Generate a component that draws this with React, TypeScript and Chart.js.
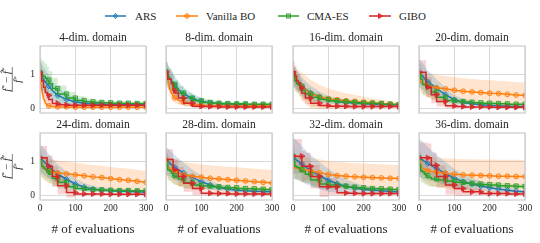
import React, { useEffect, useRef } from 'react';
import { Chart, registerables } from 'chart.js';
Chart.register(...registerables);

// ---------- data ----------
const X = [0, 5, 10, 15, 20, 25, 35, 50, 75, 100, 125, 150, 175, 200, 225, 250, 275, 300];
const X_TICKS = [0, 100, 200, 300];
const Y_TICKS = [0, 1];
const TITLES = ['4-dim. domain', '8-dim. domain', '16-dim. domain', '20-dim. domain', '24-dim. domain', '28-dim. domain', '32-dim. domain', '36-dim. domain'];
const METHODS = ['ARS', 'Vanilla BO', 'CMA-ES', 'GIBO'];

const ARS_4 = [1.00, 0.92, 0.85, 0.78, 0.71, 0.65, 0.52, 0.38, 0.26, 0.19, 0.15, 0.13, 0.12, 0.11, 0.10, 0.10, 0.10, 0.10];
const ARS_4_SD = [0.38, 0.37, 0.36, 0.35, 0.34, 0.32, 0.28, 0.23, 0.16, 0.12, 0.10, 0.08, 0.07, 0.06, 0.06, 0.05, 0.05, 0.05];
const BO_4 = [1.00, 0.55, 0.30, 0.17, 0.10, 0.07, 0.05, 0.04, 0.04, 0.03, 0.03, 0.03, 0.03, 0.03, 0.03, 0.03, 0.03, 0.03];
const BO_4_SD = [0.30, 0.25, 0.16, 0.10, 0.07, 0.05, 0.04, 0.03, 0.03, 0.03, 0.03, 0.03, 0.03, 0.03, 0.03, 0.03, 0.03, 0.03];
const CMA_4 = [1.05, 1.00, 0.97, 0.93, 0.88, 0.83, 0.72, 0.58, 0.42, 0.30, 0.23, 0.19, 0.17, 0.16, 0.15, 0.15, 0.14, 0.14];
const CMA_4_SD = [0.45, 0.45, 0.44, 0.43, 0.42, 0.40, 0.37, 0.32, 0.25, 0.18, 0.12, 0.09, 0.08, 0.07, 0.06, 0.06, 0.05, 0.05];
const GIBO_4 = [1.05, 1.05, 0.80, 0.62, 0.46, 0.38, 0.26, 0.14, 0.10, 0.09, 0.09, 0.09, 0.09, 0.09, 0.09, 0.09, 0.09, 0.09];
const GIBO_4_SD = [0.30, 0.30, 0.30, 0.28, 0.25, 0.22, 0.18, 0.10, 0.06, 0.05, 0.05, 0.05, 0.05, 0.05, 0.05, 0.05, 0.05, 0.05];

const ARS_8 = [1.05, 0.98, 0.90, 0.82, 0.75, 0.68, 0.55, 0.42, 0.28, 0.20, 0.16, 0.13, 0.12, 0.11, 0.11, 0.10, 0.10, 0.10];
const ARS_8_SD = [0.30, 0.30, 0.29, 0.28, 0.27, 0.26, 0.23, 0.20, 0.15, 0.10, 0.08, 0.06, 0.05, 0.05, 0.04, 0.04, 0.04, 0.04];
const BO_8 = [1.05, 0.85, 0.60, 0.45, 0.37, 0.31, 0.24, 0.18, 0.12, 0.09, 0.08, 0.08, 0.08, 0.07, 0.07, 0.07, 0.07, 0.07];
const BO_8_SD = [0.25, 0.25, 0.22, 0.20, 0.18, 0.15, 0.12, 0.10, 0.07, 0.05, 0.04, 0.04, 0.04, 0.04, 0.04, 0.04, 0.04, 0.04];
const CMA_8 = [1.07, 1.00, 0.92, 0.85, 0.78, 0.70, 0.58, 0.45, 0.30, 0.22, 0.17, 0.15, 0.14, 0.13, 0.13, 0.12, 0.12, 0.12];
const CMA_8_SD = [0.35, 0.35, 0.33, 0.32, 0.30, 0.28, 0.25, 0.20, 0.15, 0.10, 0.08, 0.06, 0.05, 0.05, 0.05, 0.04, 0.04, 0.04];
const GIBO_8 = [1.07, 1.07, 0.85, 0.85, 0.72, 0.52, 0.45, 0.30, 0.15, 0.06, 0.05, 0.05, 0.04, 0.04, 0.04, 0.04, 0.04, 0.04];
const GIBO_8_SD = [0.30, 0.30, 0.30, 0.30, 0.28, 0.25, 0.22, 0.18, 0.10, 0.05, 0.04, 0.04, 0.04, 0.04, 0.04, 0.04, 0.04, 0.04];

const ARS_16 = [1.00, 0.92, 0.85, 0.78, 0.72, 0.66, 0.56, 0.45, 0.33, 0.25, 0.20, 0.17, 0.15, 0.13, 0.12, 0.11, 0.10, 0.10];
const ARS_16_SD = [0.30, 0.30, 0.29, 0.28, 0.27, 0.26, 0.24, 0.21, 0.16, 0.12, 0.10, 0.08, 0.07, 0.06, 0.05, 0.05, 0.05, 0.05];
const BO_16 = [0.95, 0.88, 0.82, 0.76, 0.70, 0.64, 0.55, 0.42, 0.33, 0.28, 0.25, 0.22, 0.20, 0.18, 0.16, 0.14, 0.12, 0.11];
const BO_16_SD = [0.30, 0.32, 0.34, 0.36, 0.38, 0.40, 0.42, 0.42, 0.36, 0.30, 0.26, 0.22, 0.19, 0.16, 0.13, 0.11, 0.09, 0.08];
const CMA_16 = [1.00, 0.90, 0.80, 0.72, 0.68, 0.62, 0.52, 0.42, 0.32, 0.26, 0.22, 0.20, 0.18, 0.16, 0.15, 0.14, 0.12, 0.11];
const CMA_16_SD = [0.30, 0.30, 0.28, 0.26, 0.25, 0.24, 0.22, 0.18, 0.14, 0.10, 0.08, 0.07, 0.06, 0.05, 0.05, 0.05, 0.04, 0.04];
const GIBO_16 = [1.07, 1.07, 0.95, 0.80, 0.75, 0.60, 0.45, 0.30, 0.15, 0.08, 0.06, 0.06, 0.05, 0.05, 0.05, 0.05, 0.05, 0.05];
const GIBO_16_SD = [0.30, 0.30, 0.30, 0.28, 0.26, 0.24, 0.22, 0.18, 0.10, 0.06, 0.04, 0.04, 0.04, 0.04, 0.04, 0.04, 0.04, 0.04];

const ARS_20 = [1.05, 1.00, 0.95, 0.88, 0.82, 0.77, 0.70, 0.58, 0.40, 0.25, 0.17, 0.13, 0.10, 0.08, 0.07, 0.06, 0.05, 0.05];
const ARS_20_SD = [0.40, 0.40, 0.39, 0.38, 0.37, 0.35, 0.32, 0.27, 0.20, 0.14, 0.10, 0.07, 0.06, 0.05, 0.04, 0.04, 0.04, 0.04];
const BO_20 = [0.95, 0.78, 0.74, 0.71, 0.69, 0.67, 0.64, 0.60, 0.57, 0.53, 0.50, 0.48, 0.46, 0.44, 0.43, 0.41, 0.39, 0.38];
const BO_20_SD = [0.30, 0.30, 0.32, 0.33, 0.34, 0.35, 0.37, 0.38, 0.38, 0.38, 0.38, 0.38, 0.38, 0.38, 0.38, 0.38, 0.38, 0.38];
const CMA_20 = [1.00, 0.95, 0.85, 0.70, 0.68, 0.65, 0.60, 0.48, 0.32, 0.23, 0.20, 0.18, 0.16, 0.15, 0.14, 0.13, 0.12, 0.12];
const CMA_20_SD = [0.35, 0.35, 0.33, 0.30, 0.29, 0.28, 0.26, 0.22, 0.16, 0.11, 0.08, 0.07, 0.06, 0.05, 0.05, 0.05, 0.04, 0.04];
const GIBO_20 = [1.06, 1.06, 1.06, 1.06, 1.06, 0.62, 0.62, 0.40, 0.20, 0.07, 0.05, 0.04, 0.04, 0.04, 0.03, 0.03, 0.03, 0.03];
const GIBO_20_SD = [0.35, 0.35, 0.35, 0.35, 0.35, 0.30, 0.30, 0.25, 0.15, 0.06, 0.04, 0.03, 0.03, 0.03, 0.03, 0.03, 0.03, 0.03];

const ARS_24 = [1.08, 1.05, 1.00, 0.95, 0.90, 0.85, 0.75, 0.63, 0.47, 0.33, 0.24, 0.18, 0.15, 0.13, 0.12, 0.11, 0.10, 0.09];
const ARS_24_SD = [0.40, 0.40, 0.39, 0.38, 0.37, 0.36, 0.33, 0.28, 0.22, 0.16, 0.12, 0.09, 0.07, 0.06, 0.05, 0.05, 0.05, 0.05];
const BO_24 = [0.95, 0.85, 0.80, 0.76, 0.73, 0.71, 0.68, 0.66, 0.63, 0.60, 0.57, 0.54, 0.52, 0.49, 0.46, 0.44, 0.41, 0.38];
const BO_24_SD = [0.30, 0.32, 0.33, 0.34, 0.35, 0.35, 0.36, 0.36, 0.36, 0.36, 0.35, 0.35, 0.35, 0.34, 0.34, 0.34, 0.34, 0.33];
const CMA_24 = [1.05, 0.95, 0.85, 0.80, 0.75, 0.72, 0.62, 0.50, 0.38, 0.25, 0.20, 0.17, 0.16, 0.15, 0.14, 0.14, 0.13, 0.13];
const CMA_24_SD = [0.35, 0.35, 0.33, 0.31, 0.30, 0.29, 0.27, 0.23, 0.18, 0.12, 0.09, 0.07, 0.06, 0.05, 0.05, 0.05, 0.04, 0.04];
const GIBO_24 = [1.10, 1.10, 1.10, 1.10, 1.10, 0.85, 0.85, 0.55, 0.28, 0.08, 0.04, 0.04, 0.04, 0.03, 0.03, 0.03, 0.03, 0.03];
const GIBO_24_SD = [0.35, 0.35, 0.35, 0.35, 0.35, 0.32, 0.32, 0.30, 0.25, 0.15, 0.05, 0.04, 0.03, 0.03, 0.03, 0.03, 0.03, 0.03];

const ARS_28 = [1.00, 0.98, 0.95, 0.90, 0.86, 0.82, 0.75, 0.66, 0.52, 0.40, 0.30, 0.23, 0.18, 0.15, 0.13, 0.12, 0.11, 0.10];
const ARS_28_SD = [0.40, 0.40, 0.39, 0.38, 0.37, 0.36, 0.34, 0.30, 0.24, 0.18, 0.14, 0.10, 0.08, 0.07, 0.06, 0.05, 0.05, 0.05];
const BO_28 = [0.95, 0.85, 0.80, 0.76, 0.72, 0.70, 0.65, 0.60, 0.56, 0.53, 0.50, 0.48, 0.46, 0.44, 0.42, 0.40, 0.38, 0.36];
const BO_28_SD = [0.30, 0.32, 0.34, 0.35, 0.36, 0.37, 0.38, 0.38, 0.38, 0.38, 0.38, 0.38, 0.38, 0.38, 0.38, 0.38, 0.38, 0.38];
const CMA_28 = [0.97, 0.90, 0.75, 0.72, 0.65, 0.58, 0.55, 0.48, 0.37, 0.30, 0.27, 0.25, 0.23, 0.22, 0.20, 0.19, 0.18, 0.17];
const CMA_28_SD = [0.35, 0.35, 0.32, 0.30, 0.28, 0.26, 0.25, 0.22, 0.17, 0.12, 0.10, 0.08, 0.07, 0.06, 0.06, 0.05, 0.05, 0.05];
const GIBO_28 = [1.05, 1.05, 1.05, 1.05, 1.05, 0.75, 0.75, 0.55, 0.35, 0.20, 0.06, 0.05, 0.05, 0.04, 0.04, 0.04, 0.04, 0.04];
const GIBO_28_SD = [0.30, 0.30, 0.30, 0.30, 0.30, 0.30, 0.30, 0.28, 0.25, 0.20, 0.06, 0.05, 0.04, 0.04, 0.04, 0.04, 0.04, 0.04];

const ARS_32 = [1.08, 1.06, 1.03, 1.00, 0.96, 0.92, 0.83, 0.73, 0.58, 0.44, 0.34, 0.26, 0.21, 0.17, 0.15, 0.13, 0.11, 0.10];
const ARS_32_SD = [0.60, 0.60, 0.58, 0.56, 0.55, 0.53, 0.50, 0.45, 0.40, 0.34, 0.27, 0.21, 0.16, 0.12, 0.10, 0.08, 0.07, 0.06];
const BO_32 = [0.85, 0.82, 0.80, 0.79, 0.78, 0.77, 0.75, 0.71, 0.66, 0.61, 0.58, 0.56, 0.54, 0.53, 0.52, 0.51, 0.50, 0.49];
const BO_32_SD = [0.30, 0.32, 0.34, 0.35, 0.36, 0.37, 0.38, 0.39, 0.40, 0.40, 0.40, 0.40, 0.40, 0.40, 0.40, 0.40, 0.40, 0.40];
const CMA_32 = [1.15, 1.00, 0.85, 0.82, 0.80, 0.75, 0.70, 0.62, 0.45, 0.33, 0.30, 0.27, 0.24, 0.22, 0.20, 0.19, 0.18, 0.17];
const CMA_32_SD = [0.40, 0.38, 0.35, 0.33, 0.32, 0.31, 0.29, 0.26, 0.20, 0.14, 0.11, 0.09, 0.08, 0.07, 0.06, 0.06, 0.05, 0.05];
const GIBO_32 = [1.15, 1.15, 1.15, 1.15, 1.15, 1.15, 0.85, 0.85, 0.55, 0.25, 0.25, 0.07, 0.06, 0.05, 0.05, 0.05, 0.05, 0.05];
const GIBO_32_SD = [0.50, 0.50, 0.50, 0.50, 0.50, 0.50, 0.45, 0.40, 0.35, 0.30, 0.25, 0.08, 0.06, 0.05, 0.05, 0.05, 0.05, 0.05];

const ARS_36 = [1.10, 1.07, 1.04, 1.00, 0.97, 0.93, 0.87, 0.78, 0.64, 0.50, 0.40, 0.33, 0.27, 0.22, 0.18, 0.15, 0.12, 0.10];
const ARS_36_SD = [0.55, 0.55, 0.54, 0.52, 0.50, 0.48, 0.45, 0.40, 0.34, 0.28, 0.22, 0.18, 0.14, 0.11, 0.09, 0.07, 0.06, 0.05];
const BO_36 = [0.98, 0.85, 0.80, 0.77, 0.74, 0.72, 0.70, 0.68, 0.65, 0.62, 0.60, 0.59, 0.58, 0.57, 0.56, 0.56, 0.55, 0.55];
const BO_36_SD = [0.30, 0.32, 0.34, 0.36, 0.38, 0.40, 0.42, 0.43, 0.44, 0.45, 0.46, 0.47, 0.47, 0.48, 0.48, 0.48, 0.49, 0.49];
const CMA_36 = [1.10, 0.90, 0.72, 0.68, 0.62, 0.58, 0.52, 0.48, 0.45, 0.42, 0.38, 0.35, 0.33, 0.31, 0.30, 0.28, 0.27, 0.26];
const CMA_36_SD = [0.40, 0.38, 0.34, 0.32, 0.30, 0.28, 0.26, 0.23, 0.20, 0.17, 0.14, 0.12, 0.10, 0.09, 0.08, 0.07, 0.07, 0.06];
const GIBO_36 = [1.10, 1.10, 1.10, 1.10, 1.10, 1.10, 1.10, 0.88, 0.55, 0.30, 0.20, 0.10, 0.10, 0.05, 0.05, 0.05, 0.04, 0.04];
const GIBO_36_SD = [0.45, 0.45, 0.45, 0.45, 0.45, 0.45, 0.42, 0.38, 0.33, 0.28, 0.22, 0.12, 0.10, 0.05, 0.05, 0.05, 0.04, 0.04];

const MEANS = [
  [ARS_4, ARS_8, ARS_16, ARS_20, ARS_24, ARS_28, ARS_32, ARS_36],
  [BO_4, BO_8, BO_16, BO_20, BO_24, BO_28, BO_32, BO_36],
  [CMA_4, CMA_8, CMA_16, CMA_20, CMA_24, CMA_28, CMA_32, CMA_36],
  [GIBO_4, GIBO_8, GIBO_16, GIBO_20, GIBO_24, GIBO_28, GIBO_32, GIBO_36],
];
const SDS = [
  [ARS_4_SD, ARS_8_SD, ARS_16_SD, ARS_20_SD, ARS_24_SD, ARS_28_SD, ARS_32_SD, ARS_36_SD],
  [BO_4_SD, BO_8_SD, BO_16_SD, BO_20_SD, BO_24_SD, BO_28_SD, BO_32_SD, BO_36_SD],
  [CMA_4_SD, CMA_8_SD, CMA_16_SD, CMA_20_SD, CMA_24_SD, CMA_28_SD, CMA_32_SD, CMA_36_SD],
  [GIBO_4_SD, GIBO_8_SD, GIBO_16_SD, GIBO_20_SD, GIBO_24_SD, GIBO_28_SD, GIBO_32_SD, GIBO_36_SD],
];

// ---------- styles ----------
const COLORS = ['#1f77b4', '#ff7f0e', '#2ca02c', '#d62728'];
const STEPPED = [false, false, true, true];
const POINT_STYLES = ['rectRot', 'circle', 'rect', 'triangle'];
const POINT_ROT = [0, 0, 0, 90];
const POINT_R = [2.7, 2.4, 3.0, 3.1];
const POINT_FILL_ALPHA = [0.3, 0.35, 0.3, 0.7];
const FONT = "'Liberation Serif', 'Times New Roman', serif";
const TEXT = '#262626';

const PLOT_LEFT = [40, 166, 293, 419];
const PLOT_TOP = [46, 133];
const PLOT_W = 106;
const PLOT_H = 67;
const Y_MIN = -0.14;
const Y_MAX = 1.83;

function rgba(hex: string, a: number) {
  const n = parseInt(hex.slice(1), 16);
  return `rgba(${(n >> 16) & 255},${(n >> 8) & 255},${n & 255},${a})`;
}

const panelDeco = {
  id: 'panelDeco',
  afterDatasetsDraw(chart: any) {
    const { ctx, chartArea: a } = chart;
    ctx.save();
    ctx.strokeStyle = '#cccccc';
    ctx.lineWidth = 1.25;
    ctx.strokeRect(a.left, a.top, a.right - a.left, a.bottom - a.top);
    ctx.restore();
  },
  afterDraw(chart: any, _args: any, opts: any) {
    const { ctx, chartArea: a } = chart;
    ctx.save();
    ctx.fillStyle = TEXT;
    ctx.font = `11.5px ${FONT}`;
    ctx.textAlign = 'center';
    ctx.textBaseline = 'middle';
    ctx.fillText(opts.title, (a.left + a.right) / 2, a.top - 8.5);
    if (opts.ylabel) {
      const cy = (a.top + a.bottom) / 2;
      ctx.translate(12.3, cy);
      ctx.rotate(-Math.PI / 2);
      ctx.textAlign = 'left';
      ctx.textBaseline = 'alphabetic';
      const fi = `italic 10.5px ${FONT}`;
      const sup = `7px ${FONT}`;
      const rm = `10.5px ${FONT}`;
      const pieces = [
        { t: 'f', f: fi, dy: 0, hat: false },
        { t: '*', f: sup, dy: -3.8, hat: false },
        { t: ' \u2212 ', f: rm, dy: 0, hat: false },
        { t: 'f', f: fi, dy: 0, hat: true },
        { t: '*', f: sup, dy: -3.8, hat: false },
      ];
      let total = 0;
      const widths = pieces.map((p) => { ctx.font = p.f; const w = ctx.measureText(p.t).width; total += w; return w; });
      let x = -total / 2;
      const base = -2.4;
      pieces.forEach((p, i) => {
        ctx.font = p.f;
        ctx.fillText(p.t, x, base + p.dy);
        if (p.hat) {
          ctx.font = rm;
          ctx.textAlign = 'center';
          ctx.fillText('\u02C6', x + widths[i] / 2 + 1, base - 2.4);
          ctx.textAlign = 'left';
        }
        x += widths[i];
      });
      ctx.strokeStyle = TEXT;
      ctx.lineWidth = 0.6;
      ctx.beginPath();
      ctx.moveTo(-total / 2 - 0.5, 0);
      ctx.lineTo(total / 2 + 0.5, 0);
      ctx.stroke();
      ctx.font = fi;
      const wf = ctx.measureText('f').width;
      ctx.font = sup;
      const ws = ctx.measureText('*').width;
      const x0 = -(wf + ws) / 2;
      ctx.font = fi;
      ctx.fillText('f', x0, 9);
      ctx.font = sup;
      ctx.fillText('*', x0 + wf, 9 - 3.8);
    }
    ctx.restore();
  },
};

function Panel({ p }: { p: number }) {
  const ref = useRef<HTMLCanvasElement>(null);
  const r = Math.floor(p / 4);
  const c = p % 4;
  const L = c === 0 ? 40 : 12;
  const T = 18;
  const R = 12;
  const B = r === 1 ? 43 : 8;
  const W = L + PLOT_W + R;
  const H = T + PLOT_H + B;
  const left = PLOT_LEFT[c] - L;
  const top = PLOT_TOP[r] - T;

  useEffect(() => {
    const datasets: any[] = [];
    for (let m = 0; m < 4; m++) {
      const mean = MEANS[m][p];
      const sd = SDS[m][p];
      datasets.push({
        label: METHODS[m] + ' lower',
        data: X.map((x, i) => ({ x, y: mean[i] - sd[i] })),
        borderWidth: 0, borderColor: 'transparent', pointRadius: 0, fill: false,
        stepped: STEPPED[m] ? 'after' : false, order: 10,
      });
      datasets.push({
        label: METHODS[m] + ' upper',
        data: X.map((x, i) => ({ x, y: mean[i] + sd[i] })),
        borderWidth: 0, borderColor: 'transparent', pointRadius: 0,
        fill: '-1', backgroundColor: rgba(COLORS[m], 0.2),
        stepped: STEPPED[m] ? 'after' : false, order: 10,
      });
    }
    for (let m = 0; m < 4; m++) {
      const mean = MEANS[m][p];
      datasets.push({
        label: METHODS[m],
        data: X.map((x, i) => ({ x, y: mean[i] })),
        borderColor: COLORS[m],
        borderWidth: 1.5,
        fill: false,
        tension: 0,
        stepped: STEPPED[m] ? 'after' : false,
        pointStyle: POINT_STYLES[m],
        rotation: POINT_ROT[m],
        pointRotation: POINT_ROT[m],
        pointRadius: (ctx: any) => (X[ctx.dataIndex] % 25 === 0 ? POINT_R[m] : 0),
        pointBackgroundColor: rgba(COLORS[m], POINT_FILL_ALPHA[m]),
        pointBorderColor: COLORS[m],
        pointBorderWidth: 0.9,
        order: 3 - m,
      });
    }
    const chart = new Chart(ref.current as HTMLCanvasElement, {
      type: 'line',
      data: { datasets },
      plugins: [panelDeco as any],
      options: {
        responsive: false,
        maintainAspectRatio: false,
        animation: false,
        devicePixelRatio: 1,
        events: [],
        layout: { autoPadding: false, padding: { left: 0, top: T, right: R, bottom: 0 } },
        plugins: {
          legend: { display: false },
          tooltip: { enabled: false },
          filler: { propagate: false, drawTime: 'beforeDatasetsDraw' },
          panelDeco: { title: TITLES[p], ylabel: c === 0 },
        } as any,
        scales: {
          x: {
            type: 'linear', min: 0, max: 300,
            afterBuildTicks: (s: any) => { s.ticks = X_TICKS.map((v) => ({ value: v })); },
            afterFit: (s: any) => { s.height = B; s.paddingLeft = 0; s.paddingRight = 0; },
            grid: { color: '#d9d9d9', lineWidth: 1, drawTicks: false },
            border: { display: false },
            ticks: { display: r === 1, padding: 3, maxRotation: 0, font: { family: FONT, size: 9.5 }, color: TEXT },
            title: {
              display: r === 1, text: '# of evaluations',
              font: { family: FONT, size: 13 }, color: TEXT,
              padding: { top: 0, bottom: 5.2 },
            },
          },
          y: {
            type: 'linear', min: Y_MIN, max: Y_MAX,
            afterBuildTicks: (s: any) => { s.ticks = Y_TICKS.map((v) => ({ value: v })); },
            afterFit: (s: any) => { s.width = L; s.paddingTop = 0; s.paddingBottom = 0; },
            grid: { color: '#d9d9d9', lineWidth: 1, drawTicks: false },
            border: { display: false },
            ticks: { display: c === 0, padding: 5, font: { family: FONT, size: 9.5 }, color: TEXT },
          },
        } as any,
      },
    } as any);
    return () => chart.destroy();
  }, []);

  return (
    <canvas
      ref={ref}
      width={W}
      height={H}
      style={{ position: 'absolute', left, top, width: W, height: H }}
    />
  );
}

const LEGEND_LINE_X = [[105, 126], [176, 198], [278, 299], [369, 391]];
const LEGEND_TEXT_X = [135, 206, 307, 399];

function LegendMarker({ m, cx, cy }: { m: number; cx: number; cy: number }) {
  const col = COLORS[m];
  const fill = rgba(COLORS[m], POINT_FILL_ALPHA[m]);
  if (m === 0) return <polygon points={`${cx},${cy - 2.7} ${cx + 1.9},${cy} ${cx},${cy + 2.7} ${cx - 1.9},${cy}`} fill={fill} stroke={col} strokeWidth={0.9} />;
  if (m === 1) return <circle cx={cx} cy={cy} r={2.3} fill={fill} stroke={col} strokeWidth={0.9} />;
  if (m === 2) return <rect x={cx - 2} y={cy - 2} width={4} height={4} fill={fill} stroke={col} strokeWidth={0.9} />;
  return <polygon points={`${cx + 2.8},${cy} ${cx - 1.5},${cy - 2.5} ${cx - 1.5},${cy + 2.5}`} fill={fill} stroke={col} strokeWidth={0.9} />;
}

function Legend() {
  return (
    <svg width={540} height={30} style={{ position: 'absolute', left: 0, top: 0 }}>
      {METHODS.map((name, m) => {
        const [x1, x2] = LEGEND_LINE_X[m];
        return (
          <g key={name}>
            <line x1={x1} y1={16} x2={x2} y2={16} stroke={COLORS[m]} strokeWidth={1.5} />
            <LegendMarker m={m} cx={(x1 + x2) / 2} cy={16} />
            <text x={LEGEND_TEXT_X[m]} y={16} dominantBaseline="central" fontFamily={FONT} fontSize={11} fill={TEXT}>{name}</text>
          </g>
        );
      })}
    </svg>
  );
}

export default function App() {
  return (
    <div style={{ position: 'absolute', left: 0, top: 0, width: 540, height: 243, background: '#ffffff', overflow: 'hidden' }}>
      <Legend />
      {[0, 1, 2, 3, 4, 5, 6, 7].map((p) => <Panel key={p} p={p} />)}
    </div>
  );
}
